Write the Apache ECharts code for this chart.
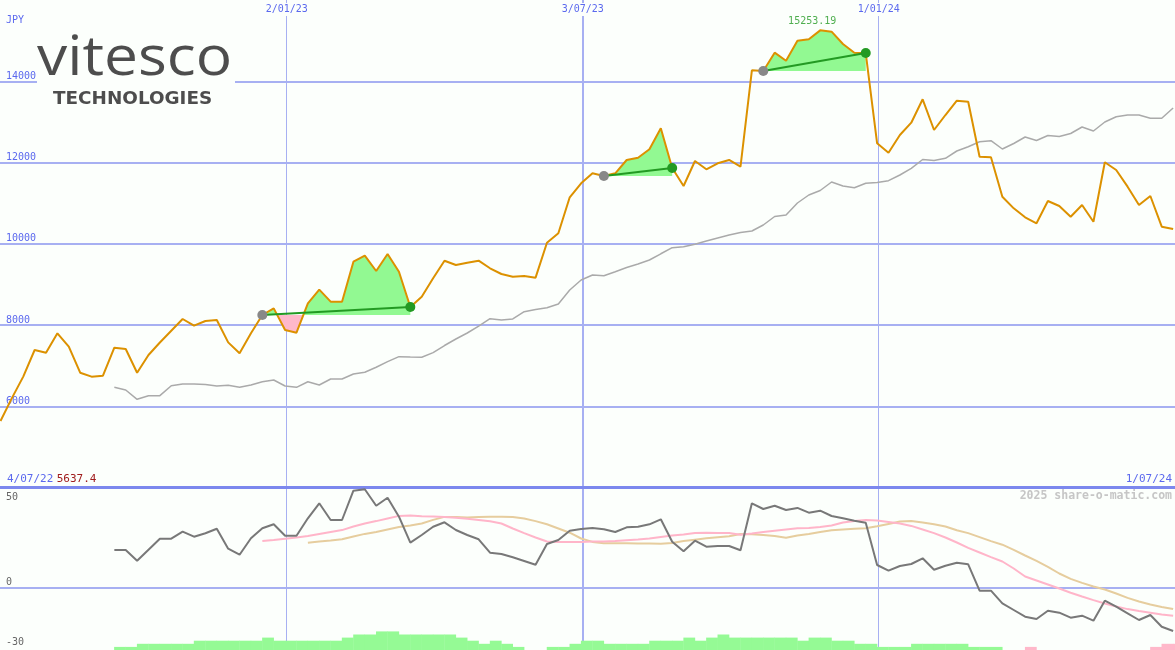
<!DOCTYPE html>
<html><head><meta charset="utf-8">
<script src="https://cdn.jsdelivr.net/npm/echarts@6/dist/echarts.min.js"></script>
<style>html,body{margin:0;padding:0;background:#fcfffc}#c{width:1175px;height:650px}</style>
</head><body><div id="c"></div>
<script>
// ---- data (weekly points; x = days after 4/07/22) ----
const startDay = 6, stepDays = 7;
const price = [
5637.4,6200,6730,7385,7319,7795,7467,6826,6728,6753,
7442,7409,6826,7262,7570,7860,8148,7983,8099,8123,
7573,7303,7795,8246,8410,7877,7811,8533,8870,8574,
8574,9558,9706,9329,9748,9312,8443,8697,9150,9583,
9477,9534,9583,9396,9255,9189,9206,9165,10026,10257,
11143,11488,11734,11668,11734,12062,12118,12325,12842,11865,
11422,12037,11833,11980,12062,11897,14270,14252,14703,14506,
14998,15033,15253.19,15220,14917,14703,14695,12473,12241,12677,
12980,13556,12800,13169,13521,13497,12143,12128,11158,10872,
10651,10503,11052,10929,10666,10954,10543,12005,11815,11405,
10954,11175,10420,10363];
const maStart = 10;
const maValues = [
6466,6400,6171,6260,6260,6506,6548,6548,6535,6498,
6515,6466,6523,6604,6646,6498,6466,6604,6523,6671,
6671,6794,6836,6959,7097,7220,7212,7205,7320,7495,
7655,7803,7975,8155,8123,8148,8327,8382,8426,8517,
8862,9108,9231,9214,9312,9415,9502,9600,9753,9903,
9928,9987,10068,10142,10216,10277,10314,10462,10671,10708,
11003,11200,11311,11520,11422,11380,11488,11510,11552,11692,
11857,12074,12049,12104,12283,12389,12512,12537,12332,12468,
12628,12542,12665,12640,12714,12874,12775,12997,13127,13169,
13169,13088,13088,13342];
const oscStart = 10;
const oscValues = [
18.75,18.75,13.4,18.9,24.4,24.4,27.9,25.4,27.1,29.4,
19.4,16.4,24.6,29.6,31.6,25.9,25.9,34.6,42.1,33.75,
33.75,48.4,49.1,40.9,44.9,35.4,22.4,26.25,30.4,32.6,
28.75,26.25,24.1,17.4,16.75,15.1,13.25,11.4,21.75,23.75,
28.4,29.25,29.75,29.1,27.75,30.1,30.4,31.6,34.1,22.9,
18.1,23.4,20.4,20.75,20.75,18.6,42.1,39.25,40.9,38.75,
39.8,37.4,38.4,35.75,34.6,33.4,32.4,11.25,8.4,10.75,
11.75,14.6,8.9,10.9,12.4,11.6,-1.6,-1.6,-7.9,-11.25,
-14.6,-15.75,-11.6,-12.6,-15.1,-14.1,-16.6,-6.6,-9.6,-12.9,
-16.25,-13.75,-19.6,-21.75];
const pinkStart = 23;
const pinkValues = [
23.3,23.8,24.4,25.0,25.8,26.8,27.8,28.7,30.5,32.0,
33.2,34.5,35.8,36.0,35.6,35.5,35.3,34.9,34.4,33.8,
33.1,32.0,29.5,27.2,25.0,23.0,22.8,22.7,22.8,23.0,
23.0,23.2,23.6,24.0,24.5,25.3,26.0,26.5,27.3,27.4,
27.2,27.2,26.4,27.0,27.8,28.4,29.0,29.6,29.8,30.2,
31.0,32.5,33.3,33.8,33.5,32.8,32.0,30.8,29.0,27.2,
25.0,22.5,19.8,17.5,15.2,13.0,9.5,5.5,3.5,1.5,
-0.5,-2.6,-4.5,-6.3,-8.0,-9.5,-10.8,-11.8,-12.6,-13.5,
-14.1];
const tanStart = 27;
const tanValues = [
22.4,23.0,23.5,24.1,25.5,26.8,27.8,29.0,30.2,31.0,
32.0,33.8,35.3,35.2,35.0,35.2,35.4,35.4,35.3,34.5,
33.2,31.6,29.5,27.4,24.5,22.8,22.1,22.1,22.1,22.0,
22.0,21.9,22.3,23.2,23.9,24.6,25.1,25.6,26.8,26.6,
26.3,25.7,24.9,26.0,26.8,27.8,28.6,29.0,29.4,29.6,
30.6,31.8,33.0,33.3,32.5,31.6,30.5,28.6,27.2,25.2,
23.2,21.4,18.8,16.0,13.3,10.3,7.0,4.3,2.3,0.5,
-1.0,-3.0,-5.2,-7.0,-8.5,-9.7,-10.8];
const barStart = 10;
const barLevels = [
1,1,2,2,2,2,2,3,3,3,
3,3,3,4,3,3,3,3,3,3,
4,5,5,6,6,5,5,5,5,5,
4,3,2,3,2,1,0,0,1,1,
2,3,3,2,2,2,2,3,3,3,
4,3,4,5,4,4,4,4,4,4,
3,4,4,3,3,2,2,1,1,1,
2,2,2,2,2,1,1,1,0,0,
-1,0,0,0,0,0,0,0,0,0,
0,-1,-2,-2];
const trades = [[23,36],[53,59],[67,76]];
const maxTradeIndex = 72;
const topTickDays = [182,364,546];
const topTickLabels = ['2/01/23','3/07/23','1/01/24'];
const priceTicks = {min:4000,max:16000,interval:2000};
const oscTickValues = [-30,0,50];

// ---- styles ----
const BG='#fcfffc', BLUE='#5b69ee', GRID='#a7b0f2', SEP='#7c88ee';
const MONO="'DejaVu Sans Mono', monospace";
const X_MIN=5.7, X_MAX=728.15;
const xOf = i => startDay + i*stepDays;
const seriesFrom = (start, arr) => arr.map((v,i)=>[xOf(start+i), v]);

function xAx(grid, pos, ticks, width, labelOpt){
  return {type:'value', gridIndex:grid, position:pos, min:X_MIN, max:X_MAX,
    axisLine:{show:false}, axisTick:{show:false, customValues:ticks},
    axisLabel: labelOpt || {show:false},
    splitLine:{show:true, lineStyle:{color:GRID, width:width}}};
}
const xAxes = [
  xAx(0,'top',[182,546],1,{show:true, inside:true, customValues:topTickDays,
     formatter:v=>topTickLabels[topTickDays.indexOf(v)], color:BLUE, fontFamily:MONO, fontSize:10,
     margin:3, backgroundColor:BG, padding:[1,1,2,1]}),
  xAx(0,'bottom',[364],2),
  xAx(1,'top',[182,546],1),
  xAx(1,'bottom',[364],2)
];
xAxes[1].axisLine = {show:true, onZero:false, lineStyle:{color:SEP, width:3}};

function fillData(kb, ks, up){
  const base = price[kb], pts=[];
  for(let k=kb;k<=ks;k++){
    if(k>kb){
      const a=price[k-1]-base, b=price[k]-base;
      if(a*b<0){ const t=a/(a-b); pts.push([xOf(k-1)+t*stepDays, base]); }
    }
    pts.push([xOf(k), up?Math.max(price[k],base):Math.min(price[k],base)]);
  }
  return pts;
}
const series = [];
series.push({type:'line', name:'ma', xAxisIndex:0, yAxisIndex:0, data:seriesFrom(maStart,maValues),
  symbol:'none', lineStyle:{color:'#aaaaaa', width:1.5}, z:3});
trades.forEach(([kb,ks])=>{
  series.push({type:'line', xAxisIndex:0, yAxisIndex:0, data:fillData(kb,ks,true), symbol:'none',
    lineStyle:{opacity:0}, areaStyle:{color:'#92f992', opacity:1, origin:price[kb]}, z:2});
  series.push({type:'line', xAxisIndex:0, yAxisIndex:0, data:fillData(kb,ks,false), symbol:'none',
    lineStyle:{opacity:0}, areaStyle:{color:'#ffb8ca', opacity:1, origin:price[kb]}, z:2});
});
series.push({type:'line', name:'price', xAxisIndex:0, yAxisIndex:0, data:seriesFrom(0,price),
  symbol:'none', lineStyle:{color:'#dc9100', width:2}, z:4});
trades.forEach(([kb,ks])=>{
  series.push({type:'line', xAxisIndex:0, yAxisIndex:0, symbol:'circle', symbolSize:10, showSymbol:true,
    lineStyle:{color:'#239a23', width:2},
    data:[{value:[xOf(kb),price[kb]], itemStyle:{color:'#888888'}},
          {value:[xOf(ks),price[ks]], itemStyle:{color:'#239a23'}}], z:5});
});
series.push({type:'scatter', xAxisIndex:0, yAxisIndex:0, symbolSize:0,
  data:[[xOf(maxTradeIndex), price[maxTradeIndex]]],
  label:{show:true, position:'top', distance:4, offset:[-8,0], formatter:p=>p.value[1].toFixed(2),
    color:'#239a23', fontFamily:MONO, fontSize:10}, z:6});
// lower panel
series.push({type:'line', xAxisIndex:2, yAxisIndex:1, data:seriesFrom(tanStart,tanValues), symbol:'none',
  lineStyle:{color:'#e6cd9e', width:2}, z:3});
series.push({type:'line', xAxisIndex:2, yAxisIndex:1, data:seriesFrom(pinkStart,pinkValues), symbol:'none',
  lineStyle:{color:'#ffb5c9', width:2}, z:4});
series.push({type:'line', xAxisIndex:2, yAxisIndex:1, data:seriesFrom(oscStart,oscValues), symbol:'none',
  lineStyle:{color:'#787878', width:2}, z:5});
const greenBars=[], pinkBars=[];
barLevels.forEach((v,i)=>{
  const x = xOf(barStart+i)+stepDays/2;
  if(v>0) greenBars.push([x,v]);
  if(v<0) pinkBars.push([x,-v]);
});
series.push({type:'bar', xAxisIndex:2, yAxisIndex:2, data:greenBars, barWidth:11.8, barGap:'-100%',
  itemStyle:{color:'#95fa95'}, z:6});
series.push({type:'bar', xAxisIndex:2, yAxisIndex:2, data:pinkBars, barWidth:11.8, barGap:'-100%',
  itemStyle:{color:'#ffb8ca'}, z:6});

const option = {
  backgroundColor:BG, animation:false,
  grid:[{left:0,right:0,top:0,height:487.5},{left:0,right:0,top:487.5,height:162.5}],
  xAxis:xAxes,
  yAxis:[
    {type:'value', gridIndex:0, min:priceTicks.min, max:priceTicks.max, interval:priceTicks.interval,
      axisLine:{show:false}, axisTick:{show:false},
      axisLabel:{inside:true, margin:6, verticalAlign:'bottom', showMinLabel:false, showMaxLabel:false,
        formatter:v=>String(v), color:BLUE, fontFamily:MONO, fontSize:10},
      splitLine:{show:true, showMinLine:false, showMaxLine:false, lineStyle:{color:GRID, width:2}}},
    {type:'value', gridIndex:1, min:-31.25, max:50,
      axisLine:{show:false}, axisTick:{show:false, customValues:[0]},
      axisLabel:{inside:true, margin:6, verticalAlign:'middle', customValues:oscTickValues,
        color:'#666666', fontFamily:MONO, fontSize:10,
        formatter:v=> v===50 ? '{t|50}' : '{b|'+v+'}',
        rich:{t:{padding:[19,0,0,0], color:'#666666', fontFamily:MONO, fontSize:10},
              b:{padding:[0,0,11,0], color:'#666666', fontFamily:MONO, fontSize:10}}},
      splitLine:{show:true, lineStyle:{color:GRID, width:2}}},
    {type:'value', gridIndex:1, min:0, max:52.42, show:false, splitLine:{show:false}}
  ],
  series:series,
  graphic:[
    {type:'rect', shape:{x:37,y:30,width:198,height:82}, style:{fill:BG}, z:100},
    {type:'text', x:37, y:60, scaleX:1.12, style:{text:'vitesco', fill:'#4d4d4d', font:"400 54px 'Open Sans'", verticalAlign:'middle'}, z:101},
    {type:'text', x:53, y:100, scaleX:1.08, style:{text:'TECHNOLOGIES', fill:'#4d4d4d', font:"bold 17px 'DejaVu Sans'", verticalAlign:'middle'}, z:101},
    {type:'text', x:6, y:20, style:{text:'JPY', fill:BLUE, font:"10px 'DejaVu Sans Mono'", verticalAlign:'middle'}, z:101},
    {type:'text', x:7, y:479, style:{text:'{d|4/07/22} {v|5637.4}', verticalAlign:'middle',
      rich:{d:{fill:BLUE, font:"11px 'DejaVu Sans Mono'"}, v:{fill:'#a01c1c', font:"11px 'DejaVu Sans Mono'"}}}, z:101},
    {type:'text', x:1172, y:479, style:{text:'1/07/24', fill:BLUE, font:"11px 'DejaVu Sans Mono'", align:'right', verticalAlign:'middle'}, z:101},
    {type:'text', x:1172, y:496, style:{text:'2025 share-o-matic.com', fill:'#c6c6c6', font:"bold 11.5px 'DejaVu Sans Mono'", align:'right', verticalAlign:'middle'}, z:101}
  ]
};
const chart = echarts.init(document.getElementById('c'));
chart.setOption(option);
</script></body></html>
